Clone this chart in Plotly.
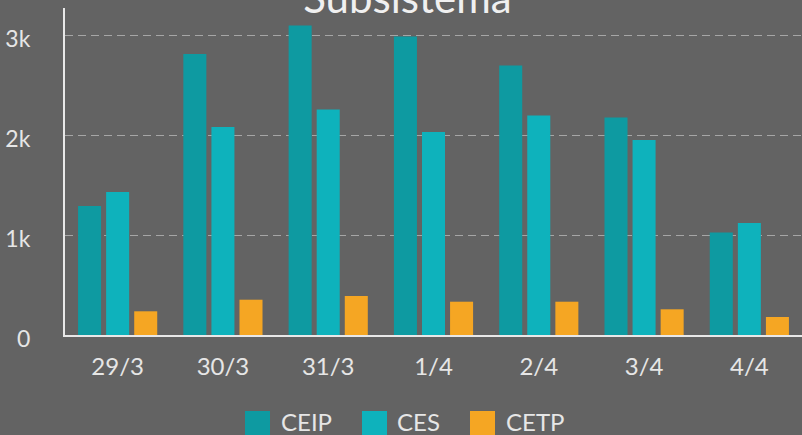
import plotly.graph_objects as go

categories = ["29/3", "30/3", "31/3", "1/4", "2/4", "3/4", "4/4"]
ceip = [1290, 2810, 3095, 2985, 2695, 2175, 1025]
ces = [1430, 2080, 2255, 2030, 2195, 1950, 1120]
cetp = [237, 353, 390, 333, 333, 257, 180]
series_names = ["CEIP", "CES", "CETP"]
colors = ["#0E9AA1", "#0EB2BC", "#F5A623"]
y_tickvals = [0, 1000, 2000, 3000]
y_ticktext = ["0", "1k", "2k", "3k"]

W, H = 802, 435
ML, MR, MT, MB = 65, 0, 8, 100
PW, PH = W - ML - MR, H - MT - MB


def px_x(px):
    return (px - ML) / PW


def px_y(py):
    return (H - MB - py) / PH


fig = go.Figure()
for name, vals, col in zip(series_names, [ceip, ces, cetp], colors):
    fig.add_trace(go.Bar(x=categories, y=vals, name=name, marker_color=col,
                         marker_line_width=0, showlegend=False))

# manual legend (large square swatches)
legend_sq_x = [245, 362, 470]
legend_txt_x = [279, 395, 504]
shapes, annots = [], []
for name, col, sx, tx in zip(series_names, colors, legend_sq_x, legend_txt_x):
    shapes.append(dict(type="rect", xref="paper", yref="paper",
                       x0=px_x(sx), x1=px_x(sx + 25), y0=px_y(437), y1=px_y(411),
                       fillcolor=col, line_width=0))
    annots.append(dict(text=name, xref="paper", yref="paper", x=px_x(tx), y=px_y(421),
                       xanchor="left", yanchor="middle", showarrow=False,
                       font=dict(family="Lato", size=24, color="#E6E6E6")))

fig.update_layout(
    width=W, height=H,
    paper_bgcolor="#636363", plot_bgcolor="#636363",
    margin=dict(l=ML, r=MR, t=MT, b=MB),
    font=dict(family="Lato", color="#E6E6E6", size=24),
    title=dict(text="Subsistema", x=0.508, xanchor="center", y=1 - 13 / H, yanchor="bottom",
               font=dict(family="Lato", size=42, color="#F0F0F0")),
    barmode="group", bargap=0.2, bargroupgap=0.18,
    showlegend=False,
    shapes=shapes, annotations=annots,
    xaxis=dict(showline=True, linecolor="#E8E8E8", linewidth=2, showgrid=False,
               ticks="", ticklabelstandoff=9, tickfont=dict(size=24, color="#E6E6E6")),
    yaxis=dict(range=[0, 3270], tickvals=y_tickvals, ticktext=y_ticktext,
               showline=True, linecolor="#E8E8E8", linewidth=2,
               showgrid=True, gridcolor="#A6A6A6", griddash="8px,5px", gridwidth=1,
               zeroline=False, ticks="", ticklabelstandoff=28, ticklabelshift=4,
               tickfont=dict(size=23, color="#E6E6E6")),
)

fig.write_html("out.html", config={"displayModeBar": False},
               post_script="document.body.style.margin='0';")
